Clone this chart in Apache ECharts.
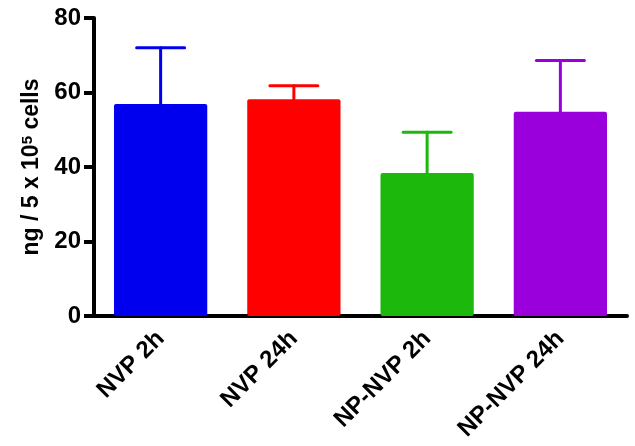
<!DOCTYPE html>
<html>
<head>
<meta charset="utf-8">
<script src="https://cdn.jsdelivr.net/npm/echarts@6/dist/echarts.min.js"></script>
<style>
  html, body { margin: 0; padding: 0; background: #fff; }
  #main { width: 635px; height: 446px; }
</style>
</head>
<body>
<div id="main"></div>
<script>
var categories = ['NVP 2h', 'NVP 24h', 'NP-NVP 2h', 'NP-NVP 24h'];
var means = [56.9, 58.2, 38.4, 54.8];
var upperErr = [72.0, 61.8, 49.3, 68.6];
var barColors = ['#0000EE', '#FF0000', '#1CB80C', '#9A00DC'];
var yTicks = [0, 20, 40, 60, 80];

var chartDom = document.getElementById('main');
var myChart = echarts.init(chartDom);
var option;

var fontFamily = '"Liberation Sans", Arial, sans-serif';

var barData = means.map(function (v, i) {
  return { value: v, itemStyle: { color: barColors[i] } };
});
var errData = means.map(function (v, i) {
  return [i, v, upperErr[i]];
});

option = {
  animation: false,
  grid: { left: 94, right: 8, top: 18, bottom: 130 },
  xAxis: {
    type: 'category',
    data: categories,
    axisLine: { lineStyle: { color: '#000', width: 4 } },
    axisTick: { alignWithLabel: true, length: 11, lineStyle: { color: '#000', width: 4 } },
    axisLabel: {
      rotate: 45,
      margin: 19,
      color: '#000',
      fontWeight: 'bold',
      fontSize: 24,
      fontFamily: fontFamily
    }
  },
  yAxis: {
    type: 'value',
    min: yTicks[0],
    max: yTicks[yTicks.length - 1],
    interval: 20,
    name: '{a|ng / 5 x 10}{s|5}{a| cells}',
    nameLocation: 'middle',
    nameGap: 50,
    nameRotate: 90,
    nameTextStyle: {
      rich: {
        a: { fontSize: 23, fontWeight: 'bold', color: '#000', fontFamily: fontFamily },
        s: { fontSize: 15, fontWeight: 'bold', color: '#000', fontFamily: fontFamily, verticalAlign: 'top', padding: [0, 0, 9, 0] }
      }
    },
    axisLine: { show: true, lineStyle: { color: '#000', width: 4 } },
    axisTick: { show: true, length: 10, lineStyle: { color: '#000', width: 4 } },
    axisLabel: {
      margin: 13,
      color: '#000',
      fontWeight: 'bold',
      fontSize: 24,
      fontFamily: fontFamily
    },
    splitLine: { show: false }
  },
  series: [
    {
      type: 'bar',
      data: barData,
      barWidth: '70%',
      itemStyle: { borderRadius: 2 }
    },
    {
      type: 'custom',
      data: errData,
      z: 1,
      renderItem: function (params, api) {
        var i = api.value(0);
        var base = api.coord([i, api.value(1)]);
        var top = api.coord([i, api.value(2)]);
        var halfCap = api.size([1, 0])[0] * 0.18;
        var color = barColors[params.dataIndex];
        var style = { stroke: color, lineWidth: 3, lineCap: 'round' };
        return {
          type: 'group',
          children: [
            { type: 'line', shape: { x1: base[0], y1: base[1], x2: top[0], y2: top[1] }, style: style },
            { type: 'line', shape: { x1: top[0] - halfCap, y1: top[1], x2: top[0] + halfCap, y2: top[1] }, style: style }
          ]
        };
      }
    }
  ]
};

option && myChart.setOption(option);
</script>
</body>
</html>
